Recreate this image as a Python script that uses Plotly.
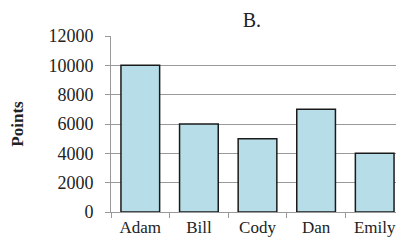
import plotly.graph_objects as go

names = ["Adam", "Bill", "Cody", "Dan", "Emily"]
points = [10000, 6000, 5000, 7000, 4000]
y_ticks = [0, 2000, 4000, 6000, 8000, 10000, 12000]

fig = go.Figure(go.Bar(
    x=names, y=points,
    marker=dict(color="#B7DEE8", line=dict(color="#1a1a1a", width=1.5)),
    width=0.66,
))

font = "Liberation Serif, Times New Roman, serif"
# page body has an 8px margin, so the figure is 8px smaller and offset
fig.update_layout(
    width=396, height=235,
    margin=dict(l=103, r=0, t=28, b=31),
    paper_bgcolor="white", plot_bgcolor="white",
    font=dict(family=font, size=17, color="#222"),
    title=dict(text="B.", x=0.616, xanchor="center", y=0.95, yanchor="middle",
               font=dict(family=font, size=20, color="#222")),
    showlegend=False,
)
fig.update_xaxes(
    showline=True, linecolor="#999", linewidth=1,
    ticks="outside", tickson="boundaries", ticklen=5, tickcolor="#999",
    showgrid=False, tickfont=dict(size=17),
)
fig.update_yaxes(
    range=[0, 12000], tickvals=y_ticks, ticktext=[str(v) for v in y_ticks],
    showline=True, linecolor="#999", linewidth=1,
    ticks="outside", ticklen=5, tickcolor="#999",
    showgrid=True, gridcolor="#999", gridwidth=1,
    zeroline=False, ticklabelstandoff=8,
    title=dict(text="<b>Points</b>", font=dict(size=17), standoff=28),
    tickfont=dict(size=18),
)
fig.write_html("out.html")
